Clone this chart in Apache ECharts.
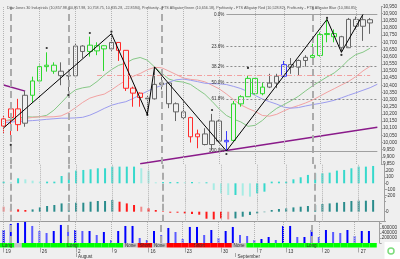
<!DOCTYPE html>
<html>
<head>
<meta charset="utf-8">
<script src="https://cdn.jsdelivr.net/npm/echarts@6/dist/echarts.min.js"></script>
<style>
html,body{margin:0;padding:0;background:#efefef;}
#chart{width:400px;height:259px;}
</style>
</head>
<body>
<div id="chart"></div>
<script>
// ---------- data ----------
const dates = ['2010-07-19','2010-07-20','2010-07-21','2010-07-22','2010-07-23','2010-07-26','2010-07-27','2010-07-28','2010-07-29','2010-07-30','2010-08-02','2010-08-03','2010-08-04','2010-08-05','2010-08-06','2010-08-09','2010-08-10','2010-08-11','2010-08-12','2010-08-13','2010-08-16','2010-08-17','2010-08-18','2010-08-19','2010-08-20','2010-08-23','2010-08-24','2010-08-25','2010-08-26','2010-08-27','2010-08-30','2010-08-31','2010-09-01','2010-09-02','2010-09-03','2010-09-07','2010-09-08','2010-09-09','2010-09-10','2010-09-13','2010-09-14','2010-09-15','2010-09-16','2010-09-17','2010-09-20','2010-09-21','2010-09-22','2010-09-23','2010-09-24','2010-09-27','2010-09-28','2010-09-29','2010-09-30'];
const opens  = [10115,10175,10235,10135,10330,10430,10530,10540,10498,10468,10466,10674,10636,10640,10676,10654,10699,10644,10380,10345,10310,10305,10406,10416,10271,10214,10174,10040,10060,9986,10150,10005,10015,10270,10320,10448,10341,10387,10415,10463,10544,10526,10573,10595,10608,10754,10761,10739,10662,10860,10812,10858];
const closes = [10165,10235,10125,10330,10430,10530,10540,10498,10467,10465,10674,10636,10680,10676,10654,10699,10644,10379,10345,10315,10305,10406,10416,10271,10214,10174,10040,10060,9986,10150,10010,10015,10270,10320,10448,10341,10387,10415,10463,10544,10526,10573,10595,10608,10754,10761,10739,10662,10860,10812,10858,10835];
const lows   = [10060,10005,10080,10110,10280,10420,10495,10480,10400,10345,10466,10590,10600,10610,10500,10640,10570,10360,10250,10250,10195,10300,10370,10240,10150,10160,10000,9960,9980,9945,10000,9941,10010,10250,10320,10335,10330,10380,10380,10460,10480,10470,10530,10560,10600,10700,10700,10630,10662,10790,10710,10759];
const highs  = [10190,10250,10305,10360,10460,10545,10630,10560,10560,10470,10690,10680,10740,10700,10680,10760,10700,10645,10390,10350,10330,10528,10460,10420,10280,10290,10180,10090,10100,10200,10160,10080,10290,10330,10470,10450,10420,10480,10480,10570,10590,10580,10610,10690,10770,10860,10790,10745,10870,10880,10895,10870];
const barZone = 'rrrnggggnnnngggnrrrrnnnnnnrrnnnbgggggnnbnnnggggnnnnn'.split('');

const lips  = [10150,10160,10170,10180,10178,10180,10190,10226,10277,10330,10368,10382,10390,10426,10471,10509,10539,10555,10582,10594,10575,10528,10484,10443,10428,10422,10406,10371,10337,10288,10234,10189,10163,10144,10113,10120,10154,10201,10239,10265,10292,10322,10360,10396,10427,10458,10486,10527,10578,10614,10631,10659];
const teeth = [10150,10155,10160,10168,10175,10180,10179,10180,10186,10209,10243,10280,10310,10326,10338,10367,10402,10434,10462,10482,10508,10525,10522,10499,10475,10451,10441,10436,10424,10400,10375,10339,10299,10263,10238,10217,10189,10184,10197,10221,10242,10258,10276,10297,10324,10351,10376,10402,10427,10460,10500,10533];
const jaw   = [10140,10143,10147,10150,10153,10157,10162,10166,10170,10170,10172,10176,10191,10213,10238,10260,10274,10285,10307,10333,10358,10381,10399,10421,10438,10443,10435,10425,10414,10411,10410,10405,10392,10377,10355,10329,10304,10285,10268,10247,10240,10244,10255,10265,10273,10283,10295,10312,10330,10347,10365,10383,10407];

const zzIdx = [0,15,20,21,31,45,47,50];
const zzVal = [10102,10760,10195,10528,9941,10860,10630,10895];
const fracUpIdx = [6,12,15,29,34,45];
const fracUpVal = [10660,10765,10774,10227,10521,10870];
const fracDnIdx = [1,9,20,31,47];
const fracDnVal = [9983,10332,10193,9920,10612];

const trendAIdx = [0,3];   const trendAVal = [10402,10359];
const trendBIdx = [19,52]; const trendBVal = [9851,10106];

const fibHigh = 10895, fibLow = 9941, fibStartIdx = 31;
const fibRatios = [0,0.236,0.382,0.5,0.618,1];
const fibLabels = ['0.0%','23.6%','38.2%','50.0%','61.8%','100.0%'];
const pinkLevel = 10470, pinkFrom = 13, pinkTo = 51;

const ao  = [27,20,81,65,43,27,27,27,119,173,206,217,228,244,244,271,271,271,271,244,206,16,20,20,20,16,20,16,16,-108,-163,-190,-190,-200,-217,-163,-136,27,27,27,65,98,136,163,163,173,206,217,244,271,271,282];
const ac  = [50,33,23,17,23,43,57,67,83,83,90,90,100,107,107,117,100,83,67,50,33,17,5,-10,-10,-17,-23,-30,-70,-77,-67,-77,-67,-50,-33,-17,-5,17,27,33,43,50,57,67,77,83,90,97,107,110,110,117];
const acZone = ('pprr'+'tttttttttttt'+'rrrprrrrrrrrrrrp'+'tttttttttttttttttttt').split('');
const volume = [520000,760000,800000,840000,680000,480000,400000,480000,720000,480000,520000,480000,480000,320000,440000,120000,480000,680000,680000,200000,120000,480000,320000,600000,440000,160000,640000,640000,320000,520000,200000,480000,640000,320000,280000,120000,160000,240000,120000,680000,680000,240000,240000,520000,240000,520000,440000,400000,520000,280000,480000,480000];

const zoneStart = [0,2,3,17,19,21,23,32,34];
const zoneEnd   = [1,2,16,18,20,22,31,33,51];
const zoneName  = ['Long','None','Long','None','Short','None','Short','None','Long'];

const mondays  = [0,5,10,15,20,25,30,35,39,44,49];
const cycleIdx = [1,9,22,43];
const monthIdx = [10,32];
const monthNames = ['August','September'];

const titleText = 'Dow Jones 30 Industrials (10,857.98, 10,857.98, 10,758.75, 10,835.28, -22.8594), Profitunity - FTS Alligator Green (10,656.18), Profitunity - FTS Alligator Red (10,528.82), Profitunity - FTS Alligator Blue (10,384.85)';

// ---------- styling helpers ----------
const BG = '#efefef';
const FONT = 'Liberation Sans';
const zoneColors = {
  g:{hollow:'#2ed82e', fill:'#00e000'},
  r:{hollow:'#ff2a2a', fill:'#ff0000'},
  n:{hollow:'#666666', fill:'#000000'},
  b:{hollow:'#3a3aff', fill:'#3a3aff'}
};
const bandColors = {Long:'#00ff00', Short:'#ff0000', None:'#c4c4c4'};
const acColors = {t:'#2a8c8c', r:'#ff1a1a', p:'#f08a8a'};

function vlines(){
  return {
    silent:true, symbol:['none','none'], animation:false, label:{show:false},
    data: mondays.map(i=>({xAxis:i, lineStyle:{type:'dotted', color:'#b4b4b4', width:1}}))
      .concat(cycleIdx.map(i=>({xAxis:i, lineStyle:{type:[7,4], color:'#ababab', width:2}})))
  };
}
function sparse(idx, vals, n){
  const a = new Array(n).fill(null);
  idx.forEach((i,k)=>{a[i]=vals[k];});
  return a;
}

const N = dates.length;
const candleData = opens.map((o,i)=>{
  const zc = zoneColors[barZone[i]];
  return {value:[o, closes[i], lows[i], highs[i]],
    itemStyle:{color:BG, borderColor:zc.hollow, color0:zc.fill, borderColor0:zc.fill}};
});

const fibLines = fibRatios.map((r,k)=>{
  const lvl = fibHigh - r*(fibHigh-fibLow);
  const solid = (r===0 || r===1);
  return [
    {xAxis:fibStartIdx, yAxis:lvl,
     lineStyle:{color: solid ? '#a0a0a0' : '#8c8c8c', type: solid ? 'solid' : [2,2], width:1},
     label:{show:true, position:'start', formatter:fibLabels[k], fontSize:4.6, color:'#333', distance:2, fontFamily:FONT}},
    {xAxis:N-1, yAxis:lvl}
  ];
});
fibLines.push([
  {xAxis:pinkFrom, yAxis:pinkLevel, lineStyle:{color:'#f2a0a0', type:[5,2,1,2], width:1}, label:{show:false}},
  {xAxis:pinkTo, yAxis:pinkLevel}
]);

const aoData = ao.map((v,i)=>({value:v, itemStyle:{color: (i===0 || v>=ao[i-1]) ? '#36d9cc' : '#a6ece4'}}));
const acData = ac.map((v,i)=>({value:v, itemStyle:{color: acColors[acZone[i]]}}));
const volData = volume.map((v,i)=>({value:v, itemStyle:{color: (i===0 || v>=volume[i-1]) ? '#0000ff' : '#5a5aff'}}));

const zoneOf = [];
zoneStart.forEach((s,k)=>{ for(let i=s;i<=zoneEnd[k];i++) zoneOf[i]=k; });
const bandData = zoneOf.map((k,i)=>{
  const s = zoneStart[k], e = zoneEnd[k];
  const mid = Math.floor((s+e)/2);
  const showLbl = (i===mid) && (e-s>=1);
  return {value:1, itemStyle:{color:bandColors[zoneName[k]]},
    label:{show:showLbl, formatter:zoneName[k], position:'inside', fontSize:4.6, color:'#333',
      offset:[((s+e)/2-mid)*7.245,0], fontFamily:FONT}};
});

// ---------- axes ----------
function hiddenX(g){
  return {type:'category', data:dates, gridIndex:g, boundaryGap:true,
    axisLine:{show:false}, axisTick:{show:false}, axisLabel:{show:false}, splitLine:{show:false}};
}
const rightAxisBase = {
  position:'right', splitLine:{show:false},
  axisLine:{show:true, lineStyle:{color:'#a0a0a0'}},
  axisTick:{show:true, length:2, lineStyle:{color:'#a0a0a0'}},
  axisLabel:{fontSize:4.6, color:'#333', margin:2, fontFamily:FONT}
};

const xAxes = [hiddenX(0), hiddenX(1), hiddenX(2), hiddenX(3)];
xAxes[2].axisLine = {show:true, onZero:false, lineStyle:{color:'#9a9a9a'}};
xAxes.push({type:'category', data:dates, gridIndex:4, boundaryGap:true, position:'bottom',
  axisLine:{show:false},
  axisTick:{show:true, alignWithLabel:true, length:5, interval:(i)=>mondays.includes(i), lineStyle:{color:'#a8a8a8'}},
  axisLabel:{show:true, interval:(i)=>mondays.includes(i), formatter:(v)=>String(Number(v.slice(8))),
    align:'left', fontSize:4.6, color:'#333', margin:1.5, padding:[0,0,0,2], fontFamily:FONT},
  splitLine:{show:false}});
xAxes.push({type:'category', data:dates, gridIndex:4, boundaryGap:true, position:'bottom', offset:5.5,
  axisLine:{show:false},
  axisTick:{show:true, alignWithLabel:true, length:4, interval:(i)=>monthIdx.includes(i), lineStyle:{color:'#a8a8a8'}},
  axisLabel:{show:true, interval:(i)=>monthIdx.includes(i), formatter:(v,i)=>monthNames[monthIdx.indexOf(i)] || '',
    align:'left', fontSize:4.6, color:'#333', margin:1, padding:[0,0,0,2], fontFamily:FONT},
  splitLine:{show:false}});

const yAxes = [
  Object.assign({}, rightAxisBase, {type:'value', gridIndex:0, min:9850, max:10950, interval:50,
    axisLabel:Object.assign({}, rightAxisBase.axisLabel, {formatter:(v)=>v.toLocaleString('en-US')})}),
  Object.assign({}, rightAxisBase, {type:'value', gridIndex:1, min:-300, max:300, interval:100,
    axisLabel:Object.assign({}, rightAxisBase.axisLabel, {showMinLabel:false, showMaxLabel:false})}),
  Object.assign({}, rightAxisBase, {type:'value', gridIndex:2, min:-100, max:140, interval:100,
    axisLabel:Object.assign({}, rightAxisBase.axisLabel, {formatter:(v)=> v===0 ? '0' : ''})}),
  Object.assign({}, rightAxisBase, {type:'value', gridIndex:3, min:0, max:850000, interval:200000,
    axisLabel:Object.assign({}, rightAxisBase.axisLabel, {formatter:(v)=> (v>0 && v<=600000) ? String(v) : ''})}),
  {type:'value', gridIndex:4, min:0, max:1, show:false}
];

// ---------- chart ----------
const chart = echarts.init(document.getElementById('chart'), null, {renderer:'canvas', width:400, height:259});
chart.setOption({
  animation:false,
  backgroundColor:BG,
  textStyle:{fontFamily:FONT},
  title:{text:titleText, left:2, top:1, textStyle:{fontSize:3.7, fontWeight:'normal', color:'#555', fontFamily:FONT}},
  grid:[
    {left:0, top:6.5,   width:384, height:157.5},
    {left:0, top:164.85,width:384, height:36.9},
    {left:0, top:197.7, width:384, height:24},
    {left:0, top:221.7, width:384, height:21.3},
    {left:0, top:243,   width:384, height:6}
  ],
  xAxis:xAxes,
  yAxis:yAxes,
  graphic:[
    {type:'rect', shape:{x:384.5, y:242, width:16, height:17}, style:{fill:'#ffffff'}, z:-1},
    {type:'circle', shape:{cx:391, cy:251, r:3}, style:{fill:'none', stroke:'#7ddc7d', lineWidth:1.5}}
  ],
  series:[
    {type:'line', name:'Lips', xAxisIndex:0, yAxisIndex:0, data:lips, showSymbol:false, z:2,
      lineStyle:{color:'#86c886', width:1}},
    {type:'line', name:'Teeth', xAxisIndex:0, yAxisIndex:0, data:teeth, showSymbol:false, z:2,
      lineStyle:{color:'#f2a2a2', width:1}},
    {type:'line', name:'Jaw', xAxisIndex:0, yAxisIndex:0, data:jaw, showSymbol:false, z:2,
      lineStyle:{color:'#9c9cee', width:1}},
    {type:'line', name:'TrendA', xAxisIndex:0, yAxisIndex:0, data:sparse(trendAIdx,trendAVal,N), connectNulls:true,
      showSymbol:false, z:2, lineStyle:{color:'#8a1a8a', width:1.5}},
    {type:'line', name:'TrendB', xAxisIndex:0, yAxisIndex:0, data:sparse(trendBIdx,trendBVal,N), connectNulls:true,
      showSymbol:false, z:2, lineStyle:{color:'#8a1a8a', width:1.5}},
    {type:'candlestick', name:'DJI', xAxisIndex:0, yAxisIndex:0, data:candleData, barWidth:5, z:4,
      markLine:vlines()},
    {type:'line', name:'ZigZag', xAxisIndex:0, yAxisIndex:0, data:sparse(zzIdx,zzVal,N), connectNulls:true,
      showSymbol:false, z:5, lineStyle:{color:'#000', width:1},
      markLine:{silent:true, symbol:['none','none'], animation:false, data:fibLines}},
    {type:'scatter', name:'Fractals', xAxisIndex:0, yAxisIndex:0, symbolSize:2.2, z:6,
      itemStyle:{color:'#000'},
      data: fracUpIdx.map((i,k)=>[i,fracUpVal[k]]).concat(fracDnIdx.map((i,k)=>[i,fracDnVal[k]]))},
    {type:'bar', name:'AO', xAxisIndex:1, yAxisIndex:1, data:aoData, barWidth:2, markLine:vlines()},
    {type:'bar', name:'AC', xAxisIndex:2, yAxisIndex:2, data:acData, barWidth:2, markLine:vlines()},
    {type:'bar', name:'Volume', xAxisIndex:3, yAxisIndex:3, data:volData, barWidth:2, markLine:vlines()},
    {type:'bar', name:'Band', xAxisIndex:4, yAxisIndex:4, data:bandData, barWidth:'100%', barCategoryGap:'0%'}
  ]
});
</script>
</body>
</html>
